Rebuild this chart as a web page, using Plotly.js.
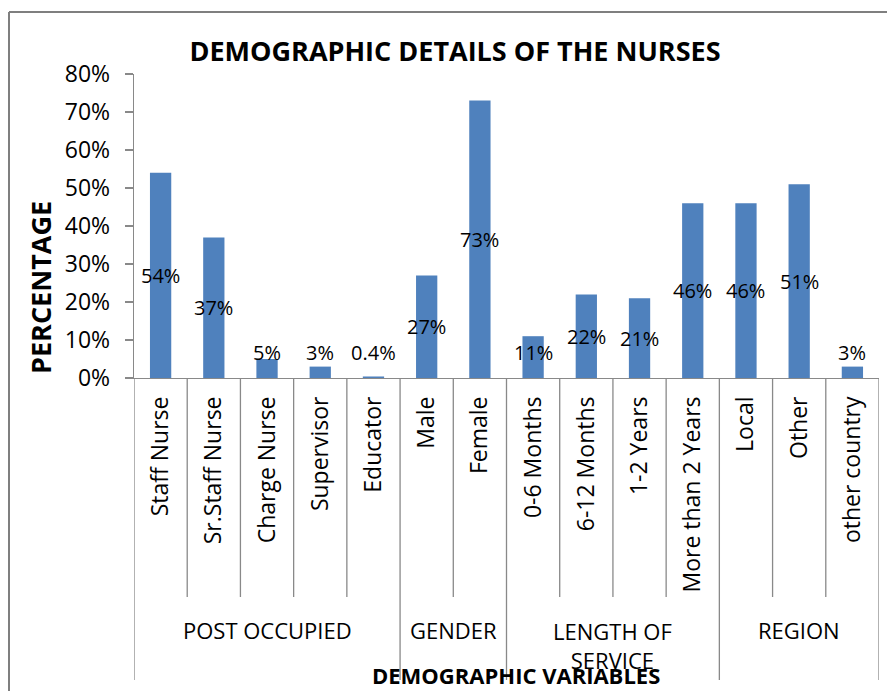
<!DOCTYPE html>
<html>
<head>
<meta charset="utf-8">
<script src="https://cdn.plot.ly/plotly-3.0.1.min.js"></script>
<style>html,body{margin:0;padding:0;background:#fff;}#chart{width:887px;height:691px;}</style>
</head>
<body>
<div id="chart"></div>
<script>
// ---- data ----
const categories = ["Staff Nurse","Sr.Staff Nurse","Charge Nurse","Supervisor","Educator",
  "Male","Female",
  "0-6 Months","6-12 Months","1-2 Years","More than 2 Years",
  "Local","Other","other country"];
const values = [54, 37, 5, 3, 0.4, 27, 73, 11, 22, 21, 46, 46, 51, 3];
const groupNames = ["POST OCCUPIED","GENDER","LENGTH OF<br>SERVICE","REGION"];
const groupSizes = [5, 2, 4, 3];
const yTickVals = [0,10,20,30,40,50,60,70,80];

// ---- layout constants ----
const W = 887, H = 691;
const mL = 134, mR = 8, mT = 74, mB = 313;
const plotH = H - mT - mB; // 304
const px2paperY = p => ((H - mB) - p) / plotH;
const px2paperX = p => (p - mL) / (W - mL - mR);
const grey = '#898989';
const FONT = 'Open Sans, sans-serif';

const trace = {
  type: 'bar',
  x: categories,
  y: values,
  marker: {color: '#4F81BD', line: {width: 0}},
  hoverinfo: 'x+y'
};

const annotations = [];
// data labels (centred in bar, kept above a minimum height)
values.forEach((v, i) => {
  annotations.push({
    x: i, y: Math.max(v / 2, 6.6), xref: 'x', yref: 'y',
    text: v + '%', showarrow: false,
    font: {family: FONT, size: 20, color: '#000'},
    xanchor: 'center', yanchor: 'middle'
  });
});

const shapes = [];
// outer frame (left and top edges visible in the picture)
shapes.push({
  type: 'line', xref: 'paper', yref: 'paper',
  x0: px2paperX(9), x1: px2paperX(9), y0: px2paperY(12), y1: px2paperY(700),
  line: {color: '#7f7f7f', width: 2}
});
shapes.push({
  type: 'line', xref: 'paper', yref: 'paper',
  x0: px2paperX(9), x1: px2paperX(900), y0: px2paperY(12), y1: px2paperY(12),
  line: {color: '#7f7f7f', width: 2}
});
// category and group boundaries
const groupEdges = [0];
groupSizes.forEach(s => groupEdges.push(groupEdges[groupEdges.length - 1] + s));
for (let i = 0; i <= categories.length; i++) {
  const isGroup = groupEdges.includes(i);
  shapes.push({
    type: 'line', xref: 'x', yref: 'paper',
    x0: i - 0.5, x1: i - 0.5, y0: 0, y1: isGroup ? px2paperY(680) : px2paperY(597),
    line: {color: grey, width: 1.3}
  });
}
// group labels
groupNames.forEach((g, k) => {
  const c = (groupEdges[k] + groupEdges[k + 1] - 1) / 2;
  annotations.push({
    x: c, xref: 'x', y: px2paperY(630), yref: 'paper',
    text: g, showarrow: false, xanchor: 'center', yanchor: g.includes('<br>') ? 'top' : 'middle',
    yshift: g.includes('<br>') ? 16 : 0,
    font: {family: FONT, size: 22, color: '#000'}
  });
});
// x axis title
annotations.push({
  x: px2paperX(516), xref: 'paper', y: px2paperY(675), yref: 'paper',
  text: '<b>DEMOGRAPHIC VARIABLES</b>', showarrow: false, xanchor: 'center', yanchor: 'middle',
  font: {family: FONT, size: 22, color: '#000'}
});
// y axis title
annotations.push({
  x: px2paperX(40), xref: 'paper', y: px2paperY(288), yref: 'paper',
  text: '<b>PERCENTAGE</b>', showarrow: false, textangle: -90,
  xanchor: 'center', yanchor: 'middle',
  font: {family: FONT, size: 27, color: '#000'}
});

const layout = {
  width: W, height: H,
  margin: {l: mL, r: mR, t: mT, b: mB, pad: 0},
  paper_bgcolor: '#fff', plot_bgcolor: '#fff',
  showlegend: false,
  bargap: 0.6,
  font: {family: FONT, color: '#000'},
  title: {
    text: 'DEMOGRAPHIC DETAILS OF THE NURSES',
    font: {family: FONT, size: 27, color: '#000', weight: 'bold'},
    x: 455 / W, xanchor: 'center', xref: 'container',
    y: 1 - 52 / H, yanchor: 'middle', yref: 'container'
  },
  xaxis: {
    type: 'category',
    tickangle: -90,
    ticks: '',
    showline: true, linecolor: grey, linewidth: 1.3,
    showgrid: false, zeroline: false,
    tickfont: {family: FONT, size: 23, color: '#000'},
    ticklabelstandoff: 8,
    automargin: false,
    range: [-0.5, categories.length - 0.5]
  },
  yaxis: {
    range: [0, 80],
    tickvals: yTickVals,
    ticktext: yTickVals.map(v => v + '%'),
    ticks: 'outside', ticklen: 8, tickcolor: grey, tickwidth: 1.3,
    showline: true, linecolor: grey, linewidth: 1.3,
    showgrid: false, zeroline: false,
    tickfont: {family: FONT, size: 23, color: '#000'},
    ticklabelstandoff: 10,
    automargin: false
  },
  annotations: annotations,
  shapes: shapes
};

Plotly.newPlot('chart', [trace], layout, {displayModeBar: false, staticPlot: true});
</script>
</body>
</html>
